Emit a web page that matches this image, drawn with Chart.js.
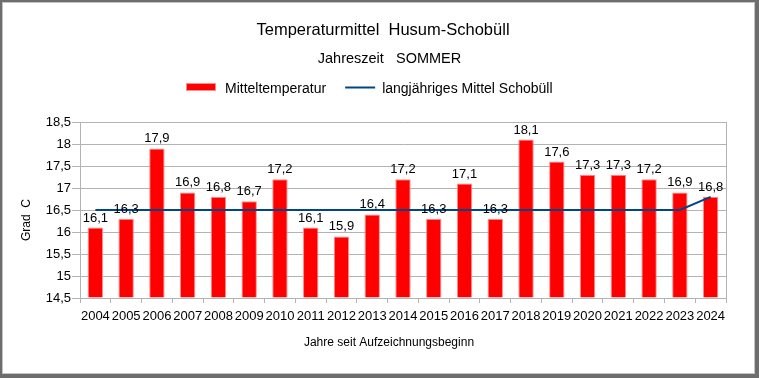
<!DOCTYPE html>
<html>
<head>
<meta charset="utf-8">
<title>Temperaturmittel Husum-Schobüll</title>
<script src="https://cdn.jsdelivr.net/npm/chart.js@4.4.0/dist/chart.umd.min.js"></script>
<style>
  html, body { margin: 0; padding: 0; background: #fff; }
  #frame {
    position: absolute; left: 0; top: 0; width: 759px; height: 378px;
    box-sizing: border-box; border-style: solid; border-color: #6d6d6d;
    border-width: 2px 4px 4px 2px; box-shadow: inset 0 0 0 1px #c4c4c4;
  }
  #chart { position: absolute; left: 0; top: 0; }
</style>
</head>
<body>
<div id="frame"></div>
<canvas id="chart" width="759" height="378"></canvas>
<script>
// Data
const years = ['2004', '2005', '2006', '2007', '2008', '2009', '2010', '2011', '2012', '2013', '2014',
               '2015', '2016', '2017', '2018', '2019', '2020', '2021', '2022', '2023', '2024'];
const temps = [16.1, 16.3, 17.9, 16.9, 16.8, 16.7, 17.2, 16.1, 15.9, 16.4, 17.2,
               16.3, 17.1, 16.3, 18.1, 17.6, 17.3, 17.3, 17.2, 16.9, 16.8];
const longMean = [16.5, 16.5, 16.5, 16.5, 16.5, 16.5, 16.5, 16.5, 16.5, 16.5, 16.5,
                  16.5, 16.5, 16.5, 16.5, 16.5, 16.5, 16.5, 16.5, 16.5, 16.8];
const seriesNames = ['Mitteltemperatur', 'langjähriges Mittel Schobüll'];
const titleText = 'Temperaturmittel  Husum-Schobüll';
const subtitleText = 'Jahreszeit   SOMMER';
const xTitle = 'Jahre seit Aufzeichnungsbeginn';
const yTitle = 'Grad  C';
const yMin = 14.5, yMax = 18.5, yStep = 0.5;

const fam = '"Liberation Sans", Arial, sans-serif';
const barColor = '#ff0000', barEdge = '#ff8c8c', lineColor = '#004586', gridColor = '#b3b3b3';

// German number format: 16.5 -> "16,5"
function fmt(v) {
  return Number(v).toLocaleString('de-DE');
}

// Values above bars
const barLabels = {
  id: 'barLabels',
  afterDatasetsDraw(chart) {
    const ctx = chart.ctx;
    const meta = chart.getDatasetMeta(0);
    ctx.save();
    ctx.font = '13px ' + fam;
    ctx.fillStyle = '#000';
    ctx.textAlign = 'center';
    ctx.textBaseline = 'alphabetic';
    meta.data.forEach((bar, i) => {
      ctx.fillText(fmt(temps[i]), bar.x, bar.y - 6);
    });
    ctx.restore();
  }
};

// Titles, legend, axis titles and right frame line
const headings = {
  id: 'headings',
  beforeDatasetsDraw(chart) {
    const ctx = chart.ctx, a = chart.chartArea;
    ctx.save();
    ctx.strokeStyle = gridColor;
    ctx.lineWidth = 1;
    ctx.beginPath();
    ctx.moveTo(Math.round(a.right) + 0.5, a.top);
    ctx.lineTo(Math.round(a.right) + 0.5, a.bottom);
    ctx.stroke();
    ctx.restore();
  },
  afterDraw(chart) {
    const ctx = chart.ctx;
    ctx.save();
    ctx.fillStyle = '#000';
    ctx.textBaseline = 'alphabetic';
    ctx.textAlign = 'center';
    ctx.font = '16.5px ' + fam;
    ctx.fillText(titleText, 383, 35);
    ctx.font = '14.5px ' + fam;
    ctx.fillText(subtitleText, 389.5, 63);

    // legend
    ctx.textAlign = 'left';
    ctx.font = '14px ' + fam;
    ctx.fillStyle = barColor;
    ctx.fillRect(186, 84, 30, 6);
    ctx.strokeStyle = barEdge;
    ctx.lineWidth = 1;
    ctx.strokeRect(186.5, 83.5, 29, 7);
    ctx.fillStyle = '#000';
    ctx.fillText(seriesNames[0], 225, 93);
    const x2 = 225 + ctx.measureText(seriesNames[0]).width + 19;
    ctx.strokeStyle = lineColor;
    ctx.lineWidth = 2;
    ctx.beginPath();
    ctx.moveTo(x2, 87.5);
    ctx.lineTo(x2 + 30, 87.5);
    ctx.stroke();
    ctx.fillText(seriesNames[1], x2 + 37, 93);

    // axis titles
    ctx.textAlign = 'center';
    ctx.font = '12px ' + fam;
    ctx.fillText(xTitle, 389, 345.5);
    ctx.translate(30, 220);
    ctx.rotate(-Math.PI / 2);
    ctx.fillText(yTitle, 0, 0);
    ctx.restore();
  }
};

new Chart(document.getElementById('chart'), {
  type: 'bar',
  data: {
    labels: years,
    datasets: [{
      type: 'bar',
      label: seriesNames[0],
      data: temps,
      backgroundColor: barColor,
      borderColor: barEdge,
      borderWidth: 1,
      base: yMin,
      barPercentage: 0.5,
      categoryPercentage: 1.0,
      order: 2
    }, {
      type: 'line',
      label: seriesNames[1],
      data: longMean,
      borderColor: lineColor,
      backgroundColor: lineColor,
      borderWidth: 2,
      pointRadius: 0,
      tension: 0,
      fill: false,
      order: 1
    }]
  },
  options: {
    responsive: false,
    devicePixelRatio: 1,
    animation: false,
    events: [],
    layout: { padding: { top: 122, right: 33, bottom: 0, left: 0 } },
    plugins: {
      legend: { display: false },
      title: { display: false },
      tooltip: { enabled: false }
    },
    scales: {
      x: {
        offset: true,
        grid: { display: true, drawOnChartArea: false, drawTicks: true, tickLength: 5, offset: true, color: gridColor },
        border: { display: true, color: gridColor },
        ticks: { color: '#000', font: { size: 13, family: fam }, autoSkip: false, maxRotation: 0, padding: 6 },
        afterFit(s) { s.height = 80; }
      },
      y: {
        min: yMin,
        max: yMax,
        grid: { color: gridColor, tickLength: 8, drawTicks: true },
        border: { display: true, color: gridColor },
        ticks: { stepSize: yStep, color: '#000', font: { size: 13, family: fam }, padding: 1, callback: v => fmt(v) },
        afterFit(s) { s.width = 80; }
      }
    }
  },
  plugins: [barLabels, headings]
});
</script>
</body>
</html>
